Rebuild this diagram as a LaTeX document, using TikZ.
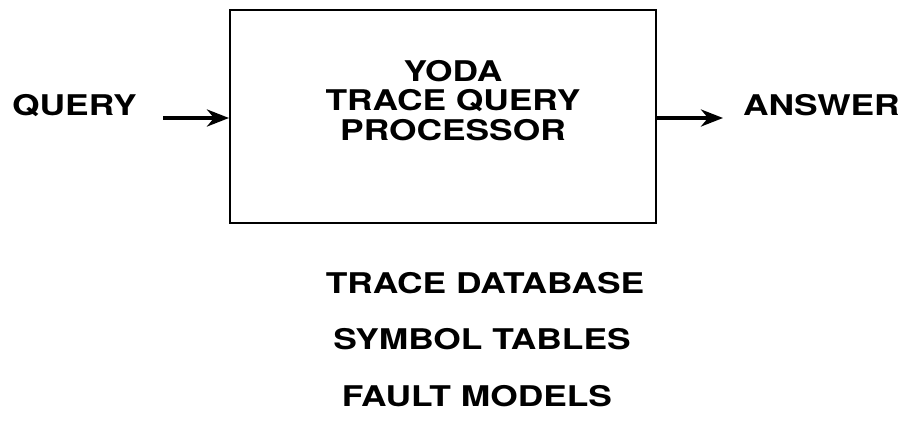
\documentclass[tikz,border=0pt]{standalone}
\usepackage{fontspec}
\newfontfamily\heros[FakeStretch=1.24]{TeX Gyre Heros}
\usetikzlibrary{arrows.meta}
\tikzset{
  lbl/.style={font=\heros\bfseries\fontsize{28.5}{29.5}\selectfont, inner sep=0pt},
  procbox/.style={draw, line width=2pt, minimum width=426pt, minimum height=213pt, inner sep=0pt},
  flow/.style={line width=4pt, -{Stealth[length=22pt,width=17pt,inset=7pt]}}
}
\begin{document}
\begin{tikzpicture}[x=1pt,y=-1pt]
  \useasboundingbox (0,0) rectangle (917,441);
  % Caja
  \node[procbox] (proc) at (443,116.5) {};
  \node[lbl, align=center, anchor=north] (proctext) at (453,60) {YODA\\TRACE QUERY\\PROCESSOR};

  % Entrada y salida
  \node[lbl, anchor=base west] (query) at (12,115) {QUERY};
  \node[lbl, anchor=base west] (answer) at (743,115) {ANSWER};
  \coordinate (qstart) at (163,118);
  \coordinate (aend) at (723,118);
  \draw[flow] (qstart) -- (qstart -| proc.west);
  \draw[flow] (aend -| proc.east) -- (aend);

  % Datos
  \node[lbl, anchor=north] (tracedb) at (485,272) {TRACE DATABASE};
  \node[lbl, anchor=north] (symtab) at (482,328) {SYMBOL TABLES};
  \node[lbl, anchor=north] (faults) at (477,385) {FAULT MODELS};
\end{tikzpicture}
\end{document}
